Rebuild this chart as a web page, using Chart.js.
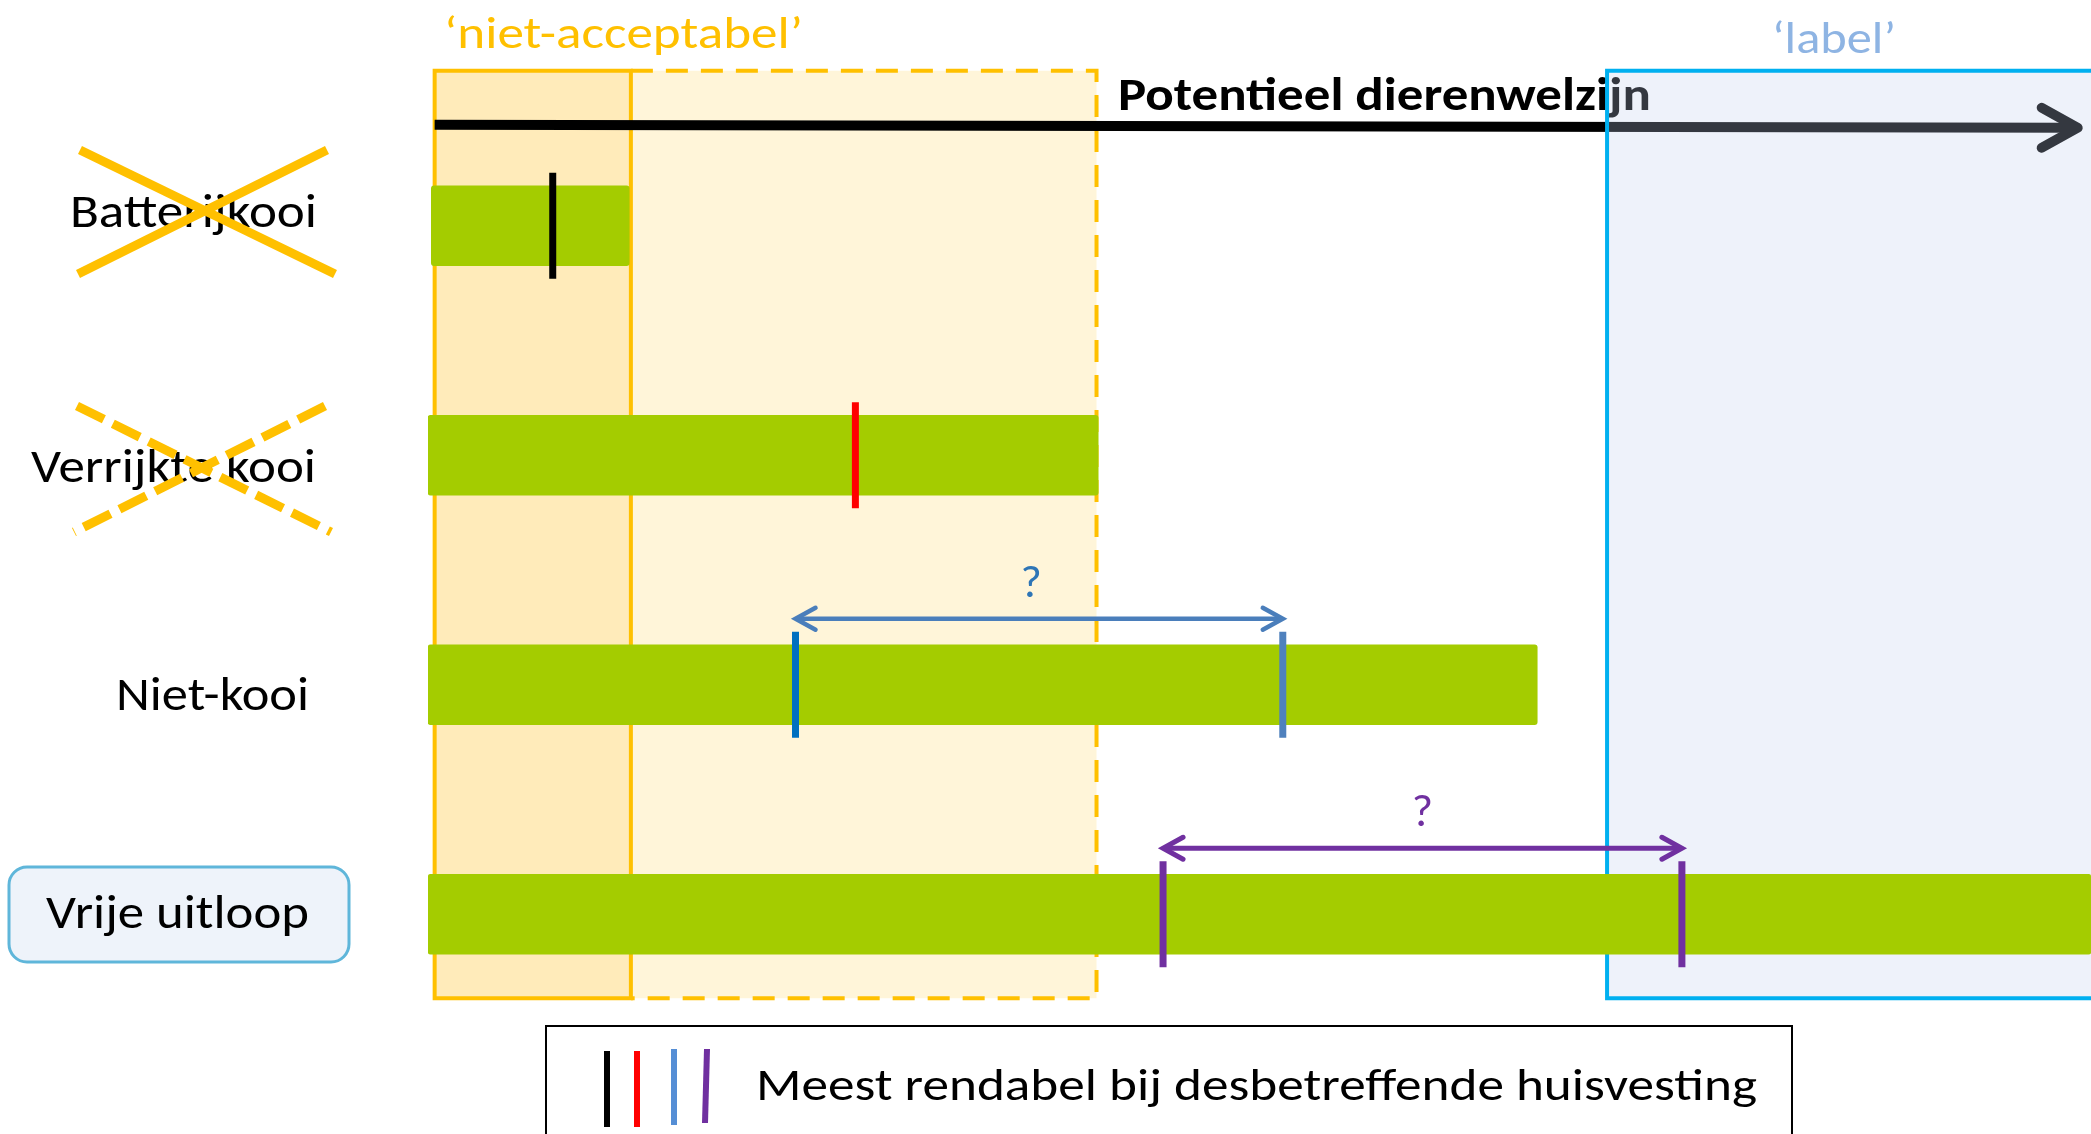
<!DOCTYPE html>
<html><head><meta charset="utf-8">
<script src="https://cdn.jsdelivr.net/npm/chart.js@4.4.0/dist/chart.umd.min.js"></script>
<style>html,body{margin:0;padding:0;background:#fff;overflow:hidden}canvas{display:block}</style>
</head><body>
<canvas id="c" width="2091" height="1134" style="width:2091px;height:1134px"></canvas>
<script>
// ---- data ----
const categories = ['Batterijkooi', 'Verrijkte kooi', 'Niet-kooi', 'Vrije uitloop'];
const rangeStart = [0.2, 0, 0, 0];
const rangeEnd = [12.1, 40.3, 66.7, 100];
const markerRows = ['Batterijkooi', 'Verrijkte kooi', 'Niet-kooi', 'Niet-kooi', 'Vrije uitloop', 'Vrije uitloop'];
const markerValues = [7.5, 25.7, 22.1, 51.4, 44.2, 75.4];
const uncertainRows = ['Niet-kooi', 'Vrije uitloop'];
const zoneUnacceptable = [0.4, 12.2];
const zoneUnacceptableDashed = [12.2, 40.2];
const zoneLabel = [70.9, 100];
const axisTitle = 'Potentieel dierenwelzijn';
const zoneTitles = ['\u2018niet-acceptabel\u2019', '\u2018label\u2019'];
const legendText = 'Meest rendabel bij desbetreffende huisvesting';
const questionMark = '?';

// ---- styles ----
const FONT = 'Carlito, Lato, "Open Sans", sans-serif';
const markerColors = ['#000000', '#FF0000', '#0070C0', '#4F81BD', '#7030A0', '#7030A0'];
const arrowColors = ['#4A7EBB', '#7030A0'];
const qColors = ['#2E75B6', '#7030A0'];

function fitText(ctx, s, left, baseline, width, size, color, weight) {
  ctx.save();
  ctx.font = (weight || 'normal') + ' ' + size + 'px ' + FONT;
  const w = ctx.measureText(s).width;
  ctx.translate(left, baseline);
  ctx.scale(width / w, 1);
  ctx.textAlign = 'left';
  ctx.textBaseline = 'alphabetic';
  ctx.fillStyle = color;
  ctx.fillText(s, 0, 0);
  ctx.restore();
}
function line(ctx, x1, y1, x2, y2, w, color, dash) {
  ctx.save();
  ctx.beginPath();
  ctx.moveTo(x1, y1); ctx.lineTo(x2, y2);
  ctx.lineWidth = w; ctx.strokeStyle = color; ctx.lineCap = 'butt';
  if (dash) ctx.setLineDash(dash);
  ctx.stroke();
  ctx.restore();
}
function chevron(ctx, tipX, tipY, dir, len, half, w, color, join) {
  ctx.save();
  ctx.beginPath();
  ctx.moveTo(tipX - dir * len, tipY - half);
  ctx.lineTo(tipX, tipY);
  ctx.lineTo(tipX - dir * len, tipY + half);
  ctx.lineWidth = w; ctx.strokeStyle = color; ctx.lineCap = 'round'; ctx.lineJoin = join || 'miter';
  ctx.stroke();
  ctx.restore();
}

const decor = {
  id: 'decor',
  beforeDatasetsDraw(chart) {
    const ctx = chart.ctx, xs = chart.scales.x, ys = chart.scales.y;
    const top = ys.getPixelForValue(0) - 155;
    const bottom = ys.getPixelForValue(categories.length - 1) + 84;
    const a0 = xs.getPixelForValue(zoneUnacceptable[0]);
    const a1 = xs.getPixelForValue(zoneUnacceptable[1]);
    const a2 = xs.getPixelForValue(zoneUnacceptableDashed[1]);
    // orange zones
    ctx.save();
    ctx.fillStyle = '#FFEBBA';
    ctx.fillRect(a0, top, a1 - a0, bottom - top);
    ctx.fillStyle = '#FFF5D9';
    ctx.fillRect(a1, top, a2 - a1, bottom - top);
    ctx.beginPath();
    ctx.moveTo(a1, top); ctx.lineTo(a2, top); ctx.lineTo(a2, bottom); ctx.lineTo(a1, bottom);
    ctx.setLineDash([22, 13]); ctx.lineWidth = 4; ctx.strokeStyle = '#FFC000'; ctx.stroke();
    ctx.setLineDash([]);
    ctx.strokeRect(a0, top, a1 - a0, bottom - top);
    ctx.restore();

    // main welfare arrow
    const ay = top + 54;
    const tipX = xs.getPixelForValue(99.2);
    line(ctx, a0, ay, tipX - 6, ay + 3, 10, '#000000');
    chevron(ctx, tipX, ay + 3, 1, 36, 20, 10, '#000000', 'round');
    fitText(ctx, axisTitle, 1118, 110, 533, 47, '#000000', 'bold');

    // label zone (translucent)
    const b0 = xs.getPixelForValue(zoneLabel[0]);
    const b1 = xs.getPixelForValue(zoneLabel[1]) + 20;
    ctx.save();
    ctx.fillStyle = 'rgba(191,206,236,0.27)';
    ctx.fillRect(b0, top, b1 - b0, bottom - top);
    ctx.lineWidth = 4; ctx.strokeStyle = '#00B0F0';
    ctx.strokeRect(b0, top, b1 - b0, bottom - top);
    ctx.restore();

    // zone titles
    fitText(ctx, zoneTitles[0], 444, 48, 359, 46, '#FFC000');
    fitText(ctx, zoneTitles[1], 1772, 53, 124, 46, '#8EB4E3');

    // Vrije uitloop box
    ctx.save();
    ctx.beginPath();
    if (ctx.roundRect) ctx.roundRect(9, 867, 340, 95, 18); else ctx.rect(9, 867, 340, 95);
    ctx.fillStyle = '#EEF3FA'; ctx.fill();
    ctx.lineWidth = 3; ctx.strokeStyle = '#5FB6DA'; ctx.stroke();
    ctx.restore();

    // category labels
    const lay = [[70, 227, 247], [31, 482, 285], [116, 710, 193], [46, 928, 263]];
    categories.forEach((c, i) => fitText(ctx, c, lay[i][0], lay[i][1], lay[i][2], 47, '#000000'));

    // crosses
    line(ctx, 80, 150, 335, 274, 9, '#FFC000');
    line(ctx, 327, 150, 78, 274, 9, '#FFC000');
    line(ctx, 77, 406, 331, 532, 9, '#FFC000', [30, 10]);
    line(ctx, 325, 406, 74, 532, 9, '#FFC000', [30, 10]);

    // legend box
    ctx.save();
    ctx.lineWidth = 2; ctx.strokeStyle = '#000000';
    ctx.strokeRect(546, 1026, 1246, 140);
    ctx.restore();
    line(ctx, 607, 1051, 607, 1127, 6, '#000000');
    line(ctx, 637, 1051, 637, 1127, 6, '#FF0000');
    line(ctx, 674, 1049, 674, 1125, 6, '#558ED5');
    line(ctx, 707, 1049, 705, 1123, 6, '#7030A0');
    fitText(ctx, legendText, 756, 1100, 1001, 46, '#000000');
  },
  afterDatasetsDraw(chart) {
    const ctx = chart.ctx, xs = chart.scales.x, ys = chart.scales.y;
    uncertainRows.forEach((row, k) => {
      const vals = markerValues.filter((v, i) => markerRows[i] === row);
      const x1 = xs.getPixelForValue(Math.min(...vals));
      const x2 = xs.getPixelForValue(Math.max(...vals));
      const ry = ys.getPixelForValue(categories.indexOf(row));
      const y = ry - 66;
      const w = k === 0 ? 4.5 : 5;
      line(ctx, x1 + 2, y, x2 - 2, y, w, arrowColors[k]);
      chevron(ctx, x1, y, -1, 20, 11, w, arrowColors[k]);
      chevron(ctx, x2, y, 1, 20, 11, w, arrowColors[k]);
      ctx.save();
      ctx.font = '46px ' + FONT;
      ctx.textAlign = 'center'; ctx.textBaseline = 'alphabetic';
      ctx.fillStyle = qColors[k];
      ctx.fillText(questionMark, (x1 + x2) / 2 - (k === 0 ? 8 : 0), ry - 88);
      ctx.restore();
    });
  }
};

new Chart(document.getElementById('c'), {
  type: 'bar',
  data: {
    labels: categories,
    datasets: [
      {
        type: 'bar',
        data: categories.map((c, i) => [rangeStart[i], rangeEnd[i]]),
        backgroundColor: '#A4CC00',
        barThickness: 80,
        grouped: false,
        borderRadius: 3,
        borderSkipped: false,
        order: 2
      },
      {
        type: 'line',
        data: markerValues.map((v, i) => ({ x: v, y: markerRows[i] })),
        showLine: false,
        pointStyle: 'line',
        rotation: 90,
        pointRadius: 53,
        pointBorderWidth: 7,
        pointBorderColor: markerColors,
        pointBackgroundColor: markerColors,
        clip: false,
        order: 1
      }
    ]
  },
  options: {
    responsive: false,
    animation: false,
    devicePixelRatio: 1,
    events: [],
    indexAxis: 'y',
    layout: { autoPadding: false, padding: { left: 428, right: 0, top: 111, bottom: 105 } },
    scales: {
      x: { type: 'linear', min: 0, max: 100, display: false },
      y: { type: 'category', labels: categories, offset: true, display: false }
    },
    plugins: { legend: { display: false }, tooltip: { enabled: false } }
  },
  plugins: [decor]
});
</script>
</body></html>
